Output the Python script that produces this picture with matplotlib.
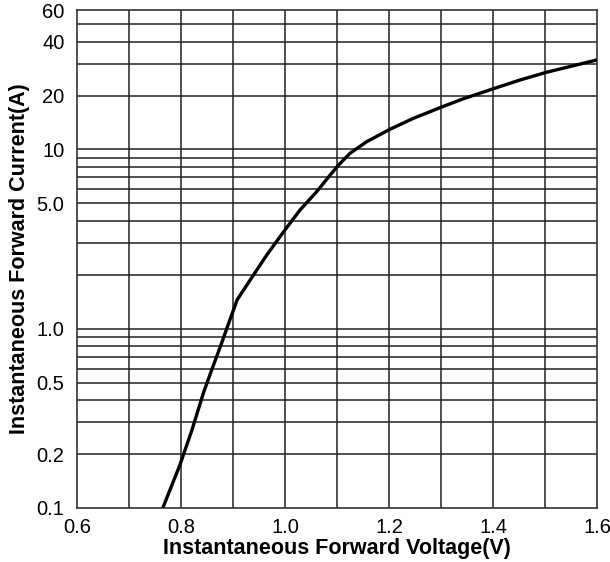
import matplotlib
matplotlib.use("Agg")
import matplotlib.pyplot as plt

# forward characteristic (log axis 0.1 .. 60 A)
voltage = [0.765, 0.798, 0.821, 0.843, 0.859, 0.878, 0.894, 0.908, 0.933, 0.965,
           1.0, 1.029, 1.061, 1.087, 1.103, 1.125, 1.157, 1.202, 1.247, 1.303,
           1.34, 1.403, 1.452, 1.503, 1.6]
current = [0.1, 0.174, 0.272, 0.437, 0.589, 0.83, 1.12, 1.45, 1.87, 2.58,
           3.56, 4.6, 5.82, 7.21, 8.19, 9.52, 11.05, 12.97, 14.93, 17.33,
           19.05, 21.94, 24.42, 26.97, 31.6]

x_ticks = [0.6, 0.8, 1.0, 1.2, 1.4, 1.6]
x_grid = [0.7, 0.8, 0.9, 1.0, 1.1, 1.2, 1.3, 1.4, 1.5]
y_ticks = [0.1, 0.2, 0.5, 1.0, 5.0, 10, 20, 40, 60]
y_tick_labels = ["0.1", "0.2", "0.5", "1.0", "5.0", "10", "20", "40", "60"]
y_grid = [0.2, 0.3, 0.4, 0.5, 0.6, 0.7, 0.8, 0.9, 1, 2, 3, 4, 5, 6, 7, 8, 9, 10, 20, 30, 40, 50]

plt.rcParams["font.family"] = ["Liberation Sans", "DejaVu Sans"]

fig = plt.figure(figsize=(6.1, 5.62), dpi=100)
ax = fig.add_axes([0.1262, 0.0961, 0.8525, 0.8861])

ax.set_yscale("log")
ax.set_xlim(0.6, 1.6)
ax.set_ylim(0.1, 60)

for xv in x_grid:
    ax.axvline(xv, color="#222222", lw=1.1, zorder=1)
for yv in y_grid:
    ax.axhline(yv, color="#222222", lw=1.1, zorder=1)

ax.plot(voltage, current, color="black", lw=2.4, zorder=3,
        solid_joinstyle="round", solid_capstyle="butt")

ax.set_xticks(x_ticks)
ax.set_xticklabels([f"{v:.1f}" for v in x_ticks])
ax.set_yticks(y_ticks)
ax.set_yticklabels(y_tick_labels)
ax.yaxis.set_minor_locator(matplotlib.ticker.NullLocator())
ax.tick_params(axis="both", length=0, labelsize=14.5, colors="black")
ax.tick_params(axis="y", pad=9)
ax.tick_params(axis="x", pad=7)

for s in ax.spines.values():
    s.set_color("#333333")
    s.set_linewidth(1.2)

ax.set_xlabel("Instantaneous Forward Voltage(V)", fontsize=15.5, fontweight="bold", labelpad=1)
ax.set_ylabel("Instantaneous Forward Current(A)", fontsize=15.5, fontweight="bold", labelpad=5)

fig.savefig("out.png", dpi=100)
